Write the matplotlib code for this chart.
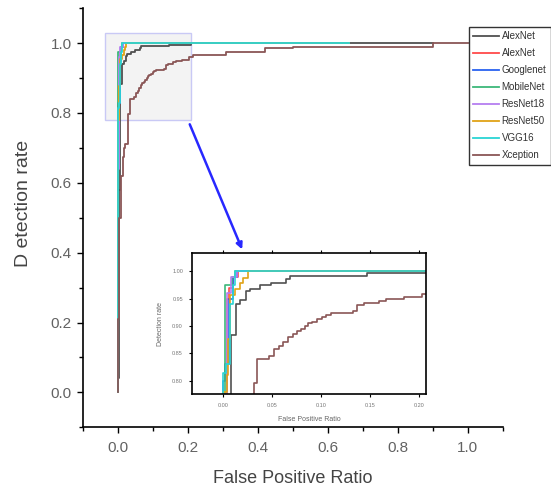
import matplotlib
matplotlib.use("Agg")
import matplotlib.pyplot as plt
from matplotlib.patches import Rectangle
from matplotlib.ticker import MultipleLocator, FormatStrFormatter

plt.rcParams['font.family'] = ['Liberation Sans', 'DejaVu Sans']

# ---------------- data (ROC step corners: jump position, level after jump) ----------------
labels = ["AlexNet", "AlexNet", "Googlenet", "MobileNet", "ResNet18", "ResNet50", "VGG16", "Xception"]
colors = ["#505050", "#ff4a4a", "#2a62f0", "#3db87a", "#b57ef0", "#e0a317", "#2ad4d4", "#8a5656"]

alexnet_fpr = [0, 0, 0.003, 0.0078, 0.0128, 0.017, 0.023, 0.027, 0.037, 0.049, 0.064, 0.068, 0.147, 0.21, 0.90]
alexnet_tpr = [0, 0.04, 0.58, 0.884, 0.940, 0.948, 0.964, 0.968, 0.974, 0.979, 0.986, 0.991, 0.996, 1.0, 1.0]

alexnet2_fpr = [0, 0, 0.004, 0.006, 0.010, 0.015, 0.66]
alexnet2_tpr = [0, 0.75, 0.95, 0.97, 0.99, 1.0, 1.0]

googlenet_fpr = [0, 0, 0.002, 0.006, 0.010, 0.014, 0.66]
googlenet_tpr = [0, 0.80, 0.83, 0.95, 0.99, 1.0, 1.0]

mobilenet_fpr = [0, 0, 0.002, 0.009, 0.012, 0.66]
mobilenet_tpr = [0, 0.60, 0.975, 0.99, 1.0, 1.0]

resnet18_fpr = [0, 0.001, 0.0037, 0.008, 0.014, 0.66]
resnet18_tpr = [0, 0.64, 0.96, 0.99, 1.0, 1.0]

resnet50_fpr = [0, 0, 0.0034, 0.005, 0.0068, 0.0118, 0.017, 0.020, 0.025, 0.66]
resnet50_tpr = [0, 0.78, 0.81, 0.877, 0.956, 0.967, 0.979, 0.988, 1.0, 1.0]

vgg16_fpr = [0, 0, 0.003, 0.007, 0.010, 0.012, 0.66]
vgg16_tpr = [0, 0.815, 0.83, 0.94, 0.975, 1.0, 1.0]

xception_fpr = [0, 0, 0.004, 0.009, 0.014, 0.018, 0.022, 0.031, 0.034, 0.047, 0.052, 0.057, 0.061,
                0.066, 0.071, 0.075, 0.079, 0.083, 0.086, 0.091, 0.096, 0.101, 0.105, 0.110, 0.132,
                0.137, 0.144, 0.159, 0.166, 0.184, 0.203, 0.215, 0.31, 0.42, 0.50, 0.90, 1.0]
xception_tpr = [0, 0.21, 0.50, 0.62, 0.675, 0.70, 0.71, 0.796, 0.839, 0.846, 0.858, 0.863, 0.871,
                0.880, 0.885, 0.890, 0.894, 0.900, 0.905, 0.908, 0.912, 0.917, 0.920, 0.923, 0.927,
                0.938, 0.941, 0.945, 0.949, 0.953, 0.959, 0.965, 0.975, 0.985, 0.99, 1.0, 1.0]

curves = [(alexnet_fpr, alexnet_tpr), (alexnet2_fpr, alexnet2_tpr), (googlenet_fpr, googlenet_tpr),
          (mobilenet_fpr, mobilenet_tpr), (resnet18_fpr, resnet18_tpr), (resnet50_fpr, resnet50_tpr),
          (vgg16_fpr, vgg16_tpr), (xception_fpr, xception_tpr)]

main_ticks = [0.0, 0.2, 0.4, 0.6, 0.8, 1.0]
inset_xticks = [0.00, 0.05, 0.10, 0.15, 0.20]
inset_yticks = [0.80, 0.85, 0.90, 0.95, 1.00]
zoom_box = (-0.035, 0.779, 0.21, 1.029)

# ---------------- figure ----------------
fig = plt.figure(figsize=(5.51, 4.93), dpi=100)
ax = fig.add_axes([0.150, 0.1333, 0.762, 0.850])

rect = Rectangle((zoom_box[0], zoom_box[1]), zoom_box[2] - zoom_box[0], zoom_box[3] - zoom_box[1],
                 facecolor="#f3f3f3", edgecolor="#c9c9f5", lw=1.0, zorder=0)
ax.add_patch(rect)

handles = []
for (f, t), c, lab in zip(curves, colors, labels):
    h, = ax.plot(f, t, drawstyle="steps-post", color=c, lw=1.3, label=lab)
    handles.append(h)

ax.set_xlim(-0.1, 1.1)
ax.set_ylim(-0.1, 1.1)
ax.set_xticks(main_ticks)
ax.set_yticks(main_ticks)
ax.xaxis.set_minor_locator(MultipleLocator(0.1))
ax.yaxis.set_minor_locator(MultipleLocator(0.1))
ax.xaxis.set_major_formatter(FormatStrFormatter("%.1f"))
ax.yaxis.set_major_formatter(FormatStrFormatter("%.1f"))
for s in ["top", "right"]:
    ax.spines[s].set_visible(False)
for s in ["left", "bottom"]:
    ax.spines[s].set_linewidth(1.2)
ax.tick_params(which="both", direction="out", width=1.0, colors="black", labelcolor="#626262",
               labelsize=11)
ax.tick_params(which="major", length=4)
ax.tick_params(which="minor", length=3)
ax.tick_params(axis="x", pad=6)
ax.tick_params(axis="y", pad=4)
ax.set_xlabel("False Positive Ratio", fontsize=13, color="#444444", labelpad=11)
ax.set_ylabel("D etection rate", fontsize=14, color="#444444")
ax.yaxis.set_label_coords(-0.121, 0.535)

# arrow from zoom box to inset
ax.annotate("", xy=(0.359, 0.402), xytext=(0.203, 0.775),
            arrowprops=dict(arrowstyle="-|>", color="#2828ff", lw=1.8, mutation_scale=9))

# legend
leg = fig.legend(handles=handles, loc="upper left", bbox_to_anchor=(469 / 551, 1 - 27 / 493),
                 fontsize=7, frameon=True, fancybox=False, handlelength=2.6, handletextpad=0.3,
                 labelspacing=0.72, borderpad=0.45, borderaxespad=0)
leg.get_frame().set_edgecolor("black")
leg.get_frame().set_linewidth(1.0)
for txt in leg.get_texts():
    txt.set_color("#333333")

# ---------------- inset ----------------
ins = fig.add_axes([0.3485, 0.2008, 0.4247, 0.286])
for (f, t), c in zip(curves, colors):
    ins.plot(f, t, drawstyle="steps-post", color=c, lw=1.2)
ins.set_xlim(-0.032, 0.207)
ins.set_ylim(0.776, 1.033)
ins.set_xticks(inset_xticks)
ins.set_yticks(inset_yticks)
ins.xaxis.set_major_formatter(FormatStrFormatter("%.2f"))
ins.yaxis.set_major_formatter(FormatStrFormatter("%.2f"))
for s in ins.spines.values():
    s.set_linewidth(1.2)
ins.tick_params(direction="out", length=2.5, width=0.8, labelsize=4, labelcolor="#777777",
                top=True, pad=4)
ins.set_xlabel("False Positive Ratio", fontsize=5, color="#666666", labelpad=6)
ins.set_ylabel("Detection rate", fontsize=5, color="#666666", labelpad=6)

fig.savefig("out.png", dpi=100)
